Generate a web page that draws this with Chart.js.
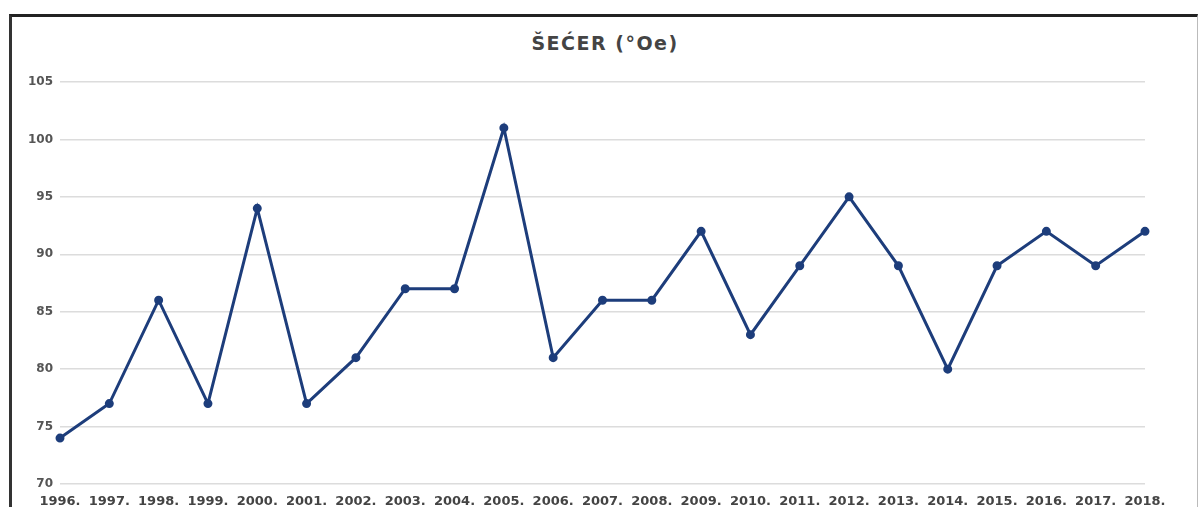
<!DOCTYPE html>
<html>
<head>
<meta charset="utf-8">
<script src="https://cdn.jsdelivr.net/npm/chart.js@4"></script>
<style>
  html, body { margin: 0; padding: 0; background: #fff; }
  body { width: 1199px; height: 507px; position: relative; overflow: hidden; }
  #frame {
    position: absolute; left: 9px; top: 14px; width: 1185px; height: 520px;
    border-top: 3px solid #222; border-left: 3px solid #333; border-right: 1px solid #bbb;
  }
  #title {
    position: absolute; left: 0; width: 1210px; top: 32px; text-align: center;
    font: bold 19px "DejaVu Sans", sans-serif; letter-spacing: 1.5px; color: #444;
  }
  #wrap { position: absolute; left: 0; top: 0; width: 1199px; height: 507px; }
</style>
</head>
<body>
<div id="frame"></div>
<div id="title">ŠEĆER (°Oe)</div>
<div id="wrap"><canvas id="chart"></canvas></div>
<script>
const years = ["1996.", "1997.", "1998.", "1999.", "2000.", "2001.", "2002.", "2003.",
  "2004.", "2005.", "2006.", "2007.", "2008.", "2009.", "2010.", "2011.", "2012.",
  "2013.", "2014.", "2015.", "2016.", "2017.", "2018."];
const sugar = [74, 77, 86, 77, 94, 77, 81, 87, 87, 101, 81, 86, 86, 92, 83, 89, 95, 89, 80, 89, 92, 89, 92];
const yMin = 70;
const yMax = 105;
const yStep = 5;

const lineColor = "#1d3d7b";

new Chart(document.getElementById("chart"), {
  type: "line",
  data: {
    labels: years,
    datasets: [{
      label: "ŠEĆER (°Oe)",
      data: sugar,
      borderColor: lineColor,
      backgroundColor: lineColor,
      borderWidth: 3,
      pointRadius: 3,
      pointBackgroundColor: lineColor,
      tension: 0,
    }],
  },
  options: {
    responsive: true,
    maintainAspectRatio: false,
    animation: false,
    layout: { padding: { top: 82, right: 54, bottom: 0, left: 0 } },
    plugins: {
      legend: { display: false },
      tooltip: { enabled: false },
    },
    scales: {
      x: {
        offset: false,
        grid: { display: false },
        border: { display: false },
        ticks: {
          autoSkip: false,
          maxRotation: 0,
          minRotation: 0,
          padding: 2,
          color: "#444",
          font: { family: "'DejaVu Sans', sans-serif", size: 13, weight: "bold" },
        },
        afterFit: (s) => { s.height = 23; },
      },
      y: {
        min: yMin,
        max: yMax,
        grid: { color: "#dcdcdc", lineWidth: 1.5, drawTicks: false },
        border: { display: false },
        ticks: {
          stepSize: yStep,
          padding: 7,
          color: "#555",
          font: { family: "'DejaVu Sans', sans-serif", size: 12, weight: "bold" },
        },
        afterFit: (s) => { s.width = 60; },
      },
    },
  },
});
</script>
</body>
</html>
